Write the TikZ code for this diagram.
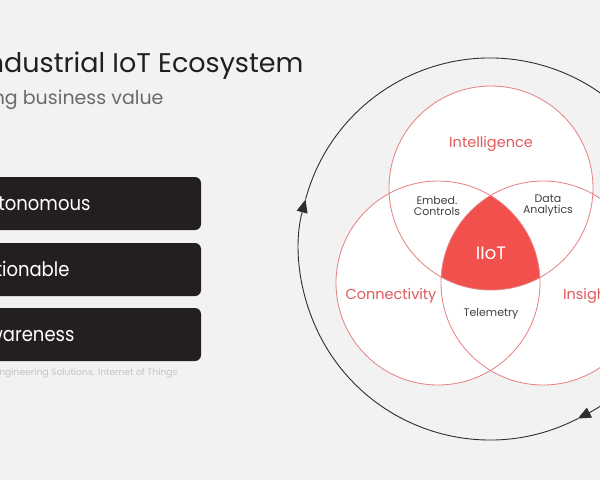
\documentclass[tikz,border=0pt]{standalone}
\usepackage{fontspec}
\setmainfont{Poppins}
\newfontfamily\levelfont{Poppins}[FakeStretch=0.9]
\usetikzlibrary{arrows.meta}

\definecolor{canvas}{HTML}{F2F2F2}
\definecolor{ink}{HTML}{231F20}
\definecolor{vennline}{HTML}{E57F80}
\definecolor{vennred}{HTML}{F2504D}
\definecolor{labelred}{HTML}{E05A5C}
\definecolor{subgray}{HTML}{6A6A6A}
\definecolor{notegray}{HTML}{C4C4C4}
\definecolor{loopgray}{HTML}{2E2E2E}

\begin{document}
\begin{tikzpicture}[x=1pt,y=-1pt,
  headline/.style={anchor=base east, text=ink, font=\fontsize{27}{30}\selectfont},
  subline/.style={anchor=base east, text=subgray, font=\fontsize{19}{22}\selectfont},
  leveltext/.style={anchor=base east, text=white, font=\levelfont\fontsize{20}{22}\selectfont},
  footnote/.style={anchor=base east, text=notegray, font=\fontsize{9.2}{11}\selectfont},
  vennset/.style={draw=vennline, line width=0.8pt},
  setlabel/.style={anchor=base, text=labelred, font=\fontsize{14.5}{16}\selectfont},
  overlap/.style={align=center, text=ink!85, font=\fontsize{11}{11}\selectfont},
  cyclearc/.style={draw=loopgray, line width=0.9pt, -{Triangle[length=13pt,width=11pt]}}
]
\useasboundingbox (0,0) rectangle (600,480);
\clip (0,0) rectangle (600,480);
\fill[canvas] (0,0) rectangle (600,480);

% --- HEADING ---
  \node[headline] (title) at (307,72) {Industrial IoT Ecosystem};
  \node[subline] (subtitle) at (167,104) {ng business value};

% --- LEVELS ---
  \foreach \y/\name/\word/\xend in {177/autonomous/Autonomous/94,
                                    243/actionable/Actionable/73,
                                    308/awareness/Awareness/78} {
    \fill[ink, rounded corners=6pt] (-10,\y) rectangle (201,\y+53);
    \node[leveltext] (\name) at (\xend,\y+33.5) {\word};
  }
  \node[footnote] (source) at (181,375) {Engineering Solutions. Internet of Things};

% --- ECOSYSTEM ---
  \coordinate (hub) at (490,249);
  \coordinate (intel) at (491,188);
  \coordinate (conn) at (438,283);
  \coordinate (insig) at (543,283);

  % outer cycle
  \draw[cyclearc] (hub) ++(62.6:191) arc[start angle=62.6, end angle=195, radius=191];
  \draw[cyclearc] (hub) ++(195:191) arc[start angle=195, end angle=422.6, radius=191];

  % sets
  \foreach \c in {intel,conn,insig} {
    \fill[white] (\c) circle[radius=102];
  }
  \begin{scope}
    \clip (intel) circle[radius=102];
    \clip (conn) circle[radius=102];
    \fill[vennred] (insig) circle[radius=102];
  \end{scope}
  \foreach \c in {intel,conn,insig} {
    \draw[vennset] (\c) circle[radius=102];
  }

  % labels
  \node[setlabel] (intelligence) at (491,147) {Intelligence};
  \node[setlabel] (connectivity) at (391,299) {Connectivity};
  \node[setlabel] (insights) at (591,299) {Insights};
  \node[overlap] (controls) at (437,206) {Embed.\\Controls};
  \node[overlap] (analytics) at (548,206) {Data\\Analytics};
  \node[overlap, anchor=base] (telemetry) at (491,316) {Telemetry};
  \node[anchor=base, text=white, font=\fontsize{18}{20}\selectfont] (iiot) at (491,259) {IIoT};
\end{tikzpicture}
\end{document}
